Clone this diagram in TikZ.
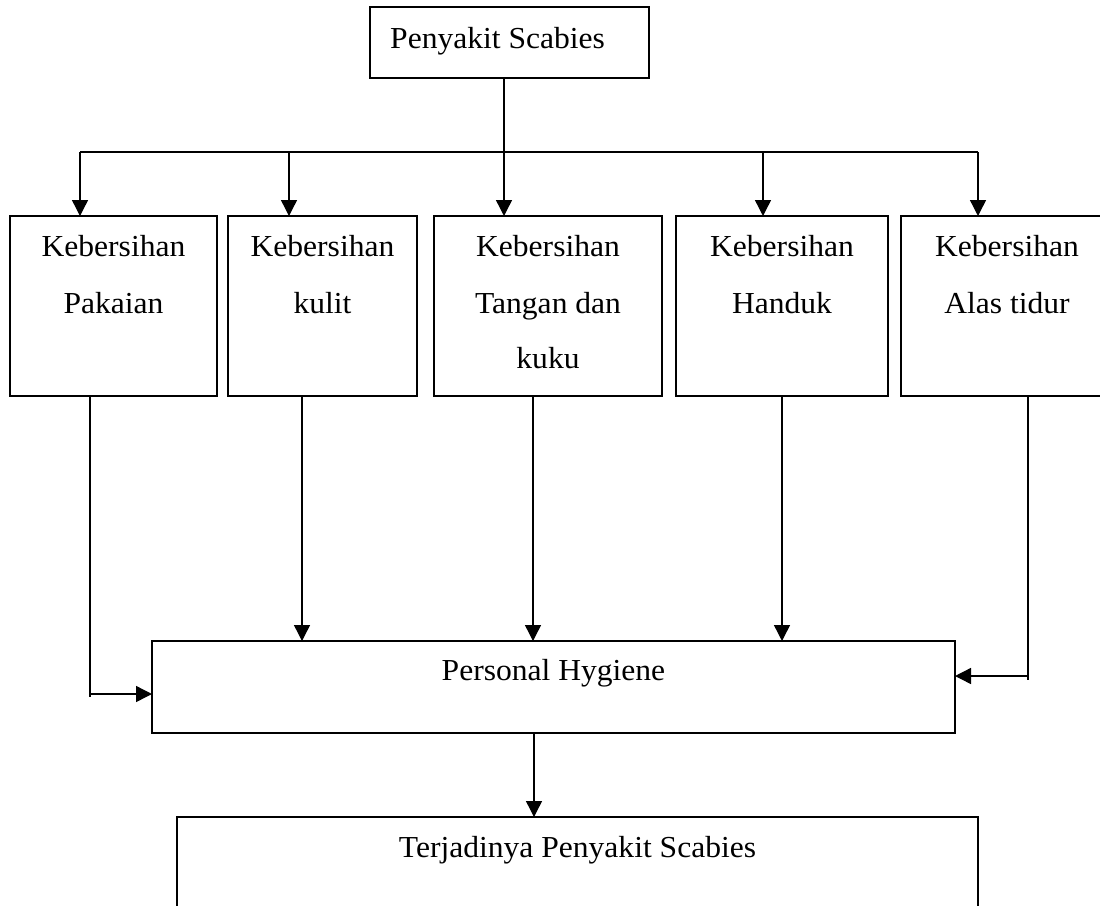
\documentclass[tikz,border=0pt]{standalone}
\usepackage{fontspec}
\newfontfamily\tnr[FakeStretch=1.035]{Liberation Serif}
\usetikzlibrary{arrows.meta,calc}
\begin{document}
\begin{tikzpicture}[x=1pt,y=-1pt,
  box/.style={draw,line width=1.6pt,inner sep=0pt,outer sep=0pt},
  txt/.style={font=\tnr\fontsize{30.5}{56}\selectfont,inner sep=0pt,anchor=base},
  line/.style={line width=1.4pt},
  arr/.style={line width=1.4pt,-{Triangle[length=16pt,width=16pt]}}]
\clip (0,0) rectangle (1100,905);
\fill[white] (0,0) rectangle (1100,905);
% top box
\node[box,minimum width=279pt,minimum height=71pt] (top) at (509.5,42.5) {};
\node[txt,anchor=base west] (toptxt) at (390,48) {Penyakit Scabies};
% five boxes
\node[box,minimum width=207pt,minimum height=180pt] (b1) at (113.5,306) {};
\node[box,minimum width=189pt,minimum height=180pt] (b2) at (322.5,306) {};
\node[box,minimum width=228pt,minimum height=180pt] (b3) at (548,306) {};
\node[box,minimum width=212pt,minimum height=180pt] (b4) at (782,306) {};
\node[box,minimum width=212pt,minimum height=180pt] (b5) at (1007,306) {};
\node[txt] (t1a) at (113.5,256) {Kebersihan};
\node[txt] (t1b) at (113.5,313) {Pakaian};
\node[txt] (t2a) at (322.5,256) {Kebersihan};
\node[txt] (t2b) at (322.5,313) {kulit};
\node[txt] (t3a) at (548,256) {Kebersihan};
\node[txt] (t3b) at (548,313) {Tangan dan};
\node[txt] (t3c) at (548,368) {kuku};
\node[txt] (t4a) at (782,256) {Kebersihan};
\node[txt] (t4b) at (782,313) {Handuk};
\node[txt] (t5a) at (1007,256) {Kebersihan};
\node[txt] (t5b) at (1007,313) {Alas tidur};
% personal hygiene
\node[box,minimum width=803pt,minimum height=92pt] (ph) at (553.5,687) {};
\node[txt] (phtxt) at (553.5,680) {Personal Hygiene};
% final box
\node[box,minimum width=801pt,minimum height=200pt] (fin) at (577.5,917) {};
\node[txt] (fintxt) at (577.5,857) {Terjadinya Penyakit Scabies};
% bus
\coordinate (busL) at (80,152);
\coordinate (busR) at (978,152);
\draw[line] (busL) -- (busR);
\draw[arr] (top.south -| 504,0) -- (b3.north -| 504,0);
\draw[arr] (busL) -- (b1.north -| busL);
\draw[arr] (289,152) -- (b2.north -| 289,0);
\draw[arr] (763,152) -- (b4.north -| 763,0);
\draw[arr] (busR) -- (b5.north -| busR);
% to personal hygiene
\coordinate (l1) at (90,694);
\draw[line] (b1.south -| 90,0) -- (90,697);
\draw[arr] (l1) -- (ph.west |- l1);
\draw[arr] (b2.south -| 302,0) -- (ph.north -| 302,0);
\draw[arr] (b3.south -| 533,0) -- (ph.north -| 533,0);
\draw[arr] (b4.south -| 782,0) -- (ph.north -| 782,0);
\coordinate (l5) at (1028,676);
\draw[line] (b5.south -| 1028,0) -- (1028,680);
\draw[arr] (l5) -- (ph.east |- l5);
% to final
\draw[arr] (ph.south -| 534,0) -- (fin.north -| 534,0);
\end{tikzpicture}
\end{document}
